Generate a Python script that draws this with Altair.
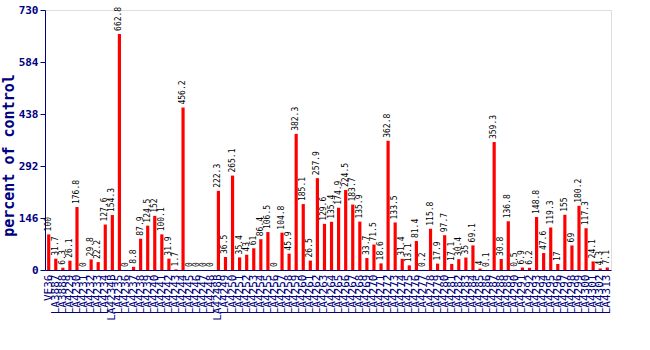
import altair as alt
import pandas as pd

labels = ["VE36", "LA3887", "LA3888", "LA4229", "LA4230", "LA4231", "LA4232", "LA4233",
          "LA4234", "LA4234B", "LA4235", "LA4236", "LA4237", "LA4238", "LA4239", "LA4240",
          "LA4241", "LA4242", "LA4243", "LA4244", "LA4245", "LA4246", "LA4247", "LA4248",
          "LA4248B", "LA4249", "LA4250", "LA4251", "LA4252", "LA4253", "LA4254", "LA4255",
          "LA4256", "LA4257", "LA4258", "LA4259", "LA4260", "LA4261", "LA4262", "LA4263",
          "LA4264", "LA4265", "LA4266", "LA4267", "LA4268", "LA4269", "LA4270", "LA4271",
          "LA4272", "LA4273", "LA4274", "LA4275", "LA4276", "LA4277", "LA4278", "LA4279",
          "LA4280", "LA4281", "LA4282", "LA4283", "LA4284", "LA4285", "LA4286", "LA4287",
          "LA4288", "LA4289", "LA4290", "LA4291", "LA4292", "LA4293", "LA4294", "LA4295",
          "LA4296", "LA4297", "LA4298", "LA4299", "LA4300", "LA4301", "LA4302", "LA4313"]

values = [100, 31.7, 6.3, 26.1, 176.8, 0, 29.8, 22.2, 127.6, 154.3,
          662.8, 0, 8.8, 87.9, 124.5, 152, 100.1, 31.9, 1.7, 456.2,
          0, 0, 0, 0, 222.3, 36.5, 265.1, 35.4, 43, 61,
          86.4, 106.5, 0, 104.8, 45.9, 382.3, 185.1, 26.5, 257.9, 129.6,
          135.4, 174.9, 224.5, 183.7, 135.9, 33.7, 71.5, 18.6, 362.8, 133.5,
          31.4, 13.1, 81.4, 0.2, 115.8, 17.9, 97.7, 17.1, 30.4, 35,
          69.1, 4, 0.1, 359.3, 30.8, 136.8, 0.5, 6.9, 6.2, 148.8,
          47.6, 119.3, 17, 155, 69, 180.2, 117.3, 24.1, 4.3, 7.1]

y_ticks = [0, 146, 292, 438, 584, 730]

df = pd.DataFrame({
    "line": labels,
    "value": values,
    "text": [f"{v:g}" for v in values],
})

navy = "#000080"
mono = "DejaVu Sans Mono"

x_enc = alt.X("line:N", sort=None, title=None,
              scale=alt.Scale(paddingInner=0.55, paddingOuter=0.3),
              axis=alt.Axis(labelAngle=270, labelColor=navy, labelFont=mono,
                            labelFontSize=11, labelAlign="right", labelBaseline="middle",
                            labelPadding=4, ticks=False, domainColor=navy,
                            labelOverlap=False, labelLimit=200))
y_enc = alt.Y("value:Q", title="percent of control",
              scale=alt.Scale(domain=[0, 730], nice=False),
              axis=alt.Axis(values=y_ticks, labelColor=navy, labelFont=mono,
                            labelFontWeight="bold", labelFontSize=11, labelPadding=2,
                            titleColor=navy, titleFont=mono, titleFontSize=15,
                            titleFontWeight="bold", titleX=-32, titleY=145,
                            titleAlign="center", titleBaseline="alphabetic",
                            titleAngle=270,
                            tickColor=navy, tickSize=5, domainColor=navy,
                            grid=False))

bars = alt.Chart(df).mark_bar(color="#ff0000").encode(x=x_enc, y=y_enc)

texts = alt.Chart(df).mark_text(angle=270, align="left", baseline="middle",
                                dx=3, font=mono, fontSize=8, color="black").encode(
    x=alt.X("line:N", sort=None),
    y=alt.Y("value:Q"),
    text="text:N",
)

chart = alt.layer(bars, texts).properties(
    width=566, height=260,
    autosize=alt.AutoSizeParams(type="none"),
    padding={"left": 45, "top": 10, "right": 39, "bottom": 80},
).configure_view(stroke=navy, strokeWidth=1).configure(background="white")

chart.save("out.html", embed_options={"renderer": "svg", "actions": False})
